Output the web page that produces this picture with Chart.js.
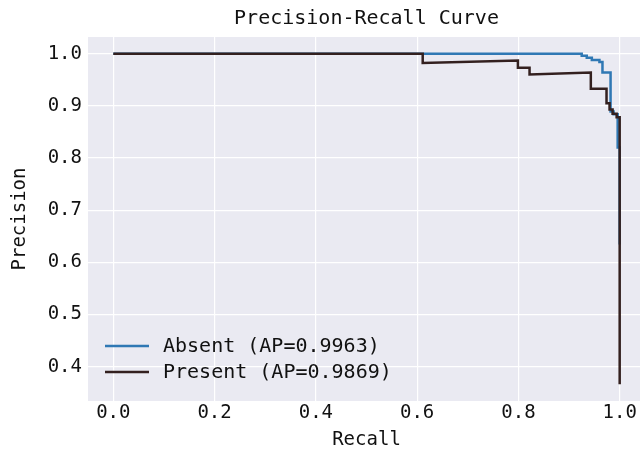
<!DOCTYPE html>
<html>
<head>
<meta charset="utf-8">
<script src="https://cdn.jsdelivr.net/npm/chart.js@4/dist/chart.umd.min.js"></script>
<style>
  html, body { margin: 0; padding: 0; background: #ffffff; overflow: hidden; }
  #wrap { width: 640px; height: 454px; overflow: hidden; }
</style>
</head>
<body>
<div id="wrap"><canvas id="c" width="646" height="454"></canvas></div>
<script>
// ---- data ----
const chartTitle = "Precision-Recall Curve";
const xTitle = "Recall";
const yTitle = "Precision";
const seriesLabels = ["Absent (AP=0.9963)", "Present (AP=0.9869)"];

const absentRecall    = [0.000, 0.925, 0.925, 0.935, 0.935, 0.945, 0.945, 0.960, 0.960, 0.966, 0.966, 0.982, 0.982, 0.988, 0.988, 0.996, 0.996, 1.000, 1.000];
const absentPrecision = [1.000, 1.000, 0.996, 0.996, 0.992, 0.992, 0.988, 0.988, 0.984, 0.984, 0.964, 0.964, 0.889, 0.889, 0.884, 0.884, 0.820, 0.820, 0.634];

const presentRecall    = [0.000, 0.611, 0.611, 0.799, 0.799, 0.822, 0.822, 0.943, 0.943, 0.974, 0.974, 0.980, 0.980, 0.986, 0.986, 0.994, 0.994, 1.000, 1.000];
const presentPrecision = [1.000, 1.000, 0.982, 0.987, 0.973, 0.973, 0.960, 0.964, 0.933, 0.933, 0.905, 0.905, 0.893, 0.893, 0.885, 0.885, 0.878, 0.878, 0.366];

const xTicks = [0.0, 0.2, 0.4, 0.6, 0.8, 1.0];
const yTicks = [0.4, 0.5, 0.6, 0.7, 0.8, 0.9, 1.0];

// ---- styling ----
const FONT = "'DejaVu Sans Mono', monospace";
const colors = ["#2f78b4", "#33201f"];

const toPts = (xs, ys) => xs.map((x, i) => ({ x: x, y: ys[i] }));

const legendPlugin = {
  id: 'insideLegend',
  afterDatasetsDraw(chart) {
    const ctx = chart.ctx;
    const a = chart.chartArea;
    ctx.save();
    ctx.font = "20px " + FONT;
    ctx.textBaseline = 'middle';
    ctx.fillStyle = '#111111';
    const rows = [346, 372];
    chart.data.datasets.forEach((ds, i) => {
      const y = rows[i];
      ctx.strokeStyle = ds.borderColor;
      ctx.lineWidth = 2.5;
      ctx.beginPath();
      ctx.moveTo(a.left + 17, y);
      ctx.lineTo(a.left + 61, y);
      ctx.stroke();
      ctx.fillText(ds.label, a.left + 75, y + 1);
    });
    ctx.restore();
  }
};

const bgPlugin = {
  id: 'plotBg',
  beforeDraw(chart) {
    const a = chart.chartArea;
    const ctx = chart.ctx;
    ctx.save();
    ctx.fillStyle = '#eaeaf2';
    ctx.fillRect(a.left, a.top, a.right - a.left, a.bottom - a.top);
    ctx.restore();
  }
};

new Chart(document.getElementById('c'), {
  type: 'line',
  data: {
    datasets: [
      { label: seriesLabels[0], order: 1, data: toPts(absentRecall, absentPrecision), borderColor: colors[0], backgroundColor: colors[0], borderWidth: 2.5, pointRadius: 0, tension: 0, fill: false },
      { label: seriesLabels[1], order: 0, data: toPts(presentRecall, presentPrecision), borderColor: colors[1], backgroundColor: colors[1], borderWidth: 2.5, pointRadius: 0, tension: 0, fill: false }
    ]
  },
  options: {
    responsive: false,
    animation: false,
    layout: { padding: { left: 0, right: 1, top: 0, bottom: 0 } },
    plugins: {
      legend: { display: false },
      tooltip: { enabled: false },
      title: {
        display: true, text: chartTitle, fullSize: false, color: '#111111',
        font: { family: FONT, size: 20, weight: 'normal' },
        padding: { top: 7, bottom: 6 }
      }
    },
    scales: {
      x: {
        type: 'linear', min: -0.05, max: 1.05,
        afterBuildTicks: s => { s.ticks = xTicks.map(v => ({ value: v })); },
        afterFit: s => { s.height = 53; },
        ticks: { color: '#111111', font: { family: FONT, size: 19 }, padding: 1, callback: v => Number(v).toFixed(1), maxRotation: 0 },
        grid: { color: '#ffffff', lineWidth: 1.2, drawTicks: false },
        border: { display: false },
        title: { display: true, text: xTitle, color: '#111111', font: { family: FONT, size: 19 }, padding: { top: 0, bottom: 3 } }
      },
      y: {
        type: 'linear', min: 0.334, max: 1.032,
        afterBuildTicks: s => { s.ticks = yTicks.map(v => ({ value: v })); },
        afterFit: s => { s.width = 88; },
        ticks: { color: '#111111', font: { family: FONT, size: 19 }, padding: 6, callback: v => Number(v).toFixed(1) },
        grid: { color: '#ffffff', lineWidth: 1.2, drawTicks: false },
        border: { display: false },
        title: { display: true, text: yTitle, color: '#111111', font: { family: FONT, size: 19 }, padding: { top: 9, bottom: 0 } }
      }
    }
  },
  plugins: [bgPlugin, legendPlugin]
});
</script>
</body>
</html>
